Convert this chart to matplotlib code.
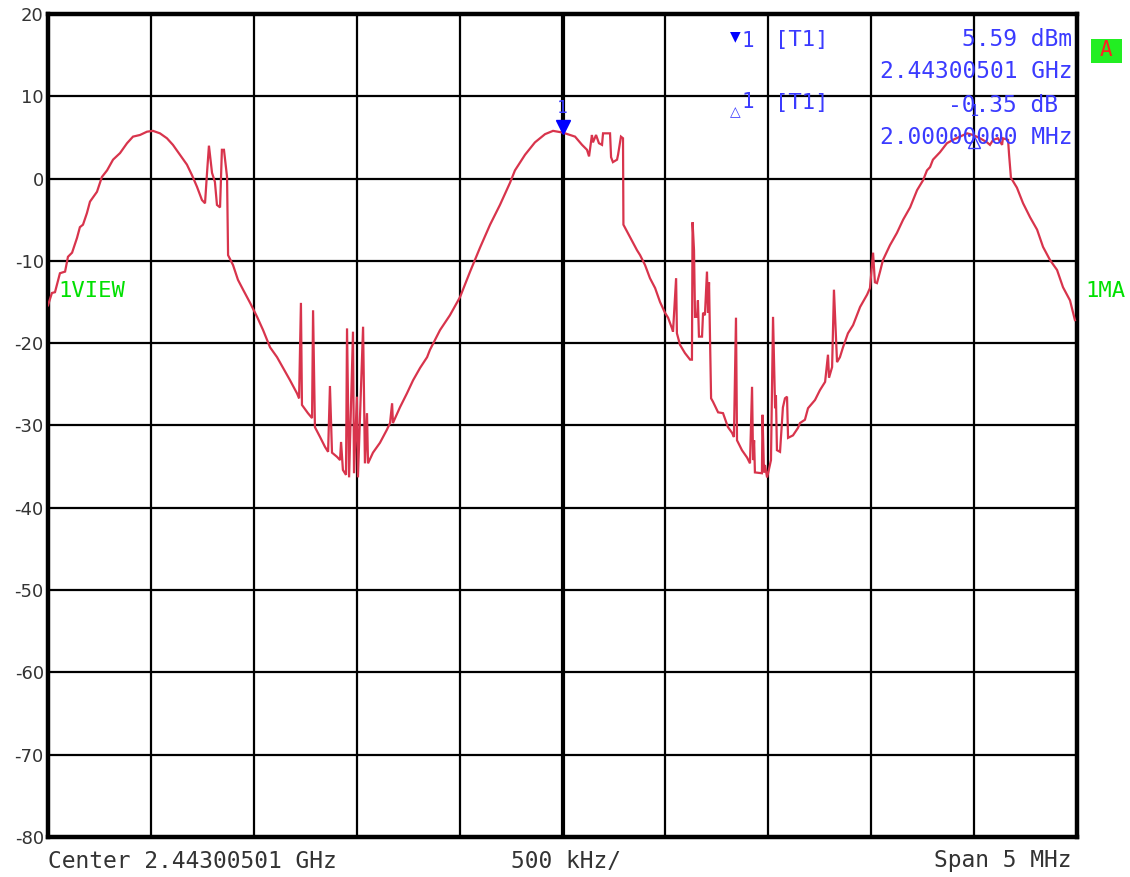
import matplotlib
matplotlib.use("Agg")
import matplotlib.pyplot as plt
from matplotlib.patches import Rectangle

# ---------------- data ----------------
center_label = "Center 2.44300501 GHz"
rbw_label = "500 kHz/"
span_label = "Span 5 MHz"
y_ticks = [20, 10, 0, -10, -20, -30, -40, -50, -60, -70, -80]

# frequency offset from center (MHz) and level (dBm)
freq_mhz = [
    -2.500, -2.481, -2.466, -2.442, -2.417, -2.403, -2.383, -2.359, -2.345, -2.330,
    -2.311, -2.296, -2.262, -2.238, -2.213, -2.184, -2.150, -2.116, -2.087, -2.053,
    -2.019, -1.990, -1.956, -1.922, -1.893, -1.859, -1.825, -1.800, -1.776, -1.752,
    -1.737, -1.727, -1.718, -1.703, -1.689, -1.679, -1.664, -1.655, -1.645, -1.630,
    -1.625, -1.601, -1.577, -1.552, -1.518,
    -1.484, -1.455, -1.421, -1.387, -1.358, -1.324, -1.290, -1.280, -1.271, -1.266,
    -1.237, -1.217, -1.212, -1.203, -1.178, -1.154, -1.139, -1.130, -1.120, -1.096,
    -1.081, -1.076, -1.067, -1.052, -1.047, -1.037, -1.018, -1.013, -0.999, -0.994,
    -0.969, -0.960, -0.950, -0.945, -0.921, -0.887, -0.853, -0.838, -0.828, -0.824,
    -0.790, -0.756, -0.726, -0.692, -0.658, -0.644,
    -0.595, -0.547, -0.498, -0.449, -0.401, -0.352, -0.304, -0.255, -0.231, -0.182,
    -0.134, -0.085, -0.046, 0.000,
    0.036, 0.061, 0.095, 0.119, 0.129, 0.143, 0.148, 0.163, 0.177, 0.192,
    0.197, 0.231, 0.236, 0.245, 0.265, 0.270, 0.284, 0.294, 0.296, 0.328,
    0.362, 0.377, 0.401, 0.425, 0.450, 0.474, 0.498, 0.513, 0.532, 0.537,
    0.552, 0.556, 0.571, 0.595, 0.620, 0.629, 0.632, 0.639, 0.644, 0.654,
    0.658, 0.663, 0.678, 0.683, 0.692, 0.702, 0.707, 0.712, 0.722, 0.731,
    0.756, 0.780, 0.804, 0.824, 0.833, 0.843, 0.848, 0.872, 0.897, 0.911,
    0.921, 0.926, 0.931, 0.935, 0.969, 0.972, 0.979, 0.984, 0.994, 0.999,
    1.013, 1.023, 1.033, 1.037, 1.042, 1.057, 1.071, 1.081, 1.091, 1.096,
    1.120, 1.144, 1.154, 1.178, 1.193, 1.227, 1.251, 1.276, 1.290, 1.295,
    1.310, 1.319, 1.334, 1.348, 1.363, 1.387, 1.412, 1.446, 1.480, 1.494,
    1.509, 1.518, 1.528, 1.543, 1.557, 1.591, 1.625, 1.655, 1.689, 1.723,
    1.752, 1.771, 1.786, 1.800, 1.834, 1.868, 1.897, 1.931, 1.966, 1.995,
    2.029, 2.063, 2.077, 2.092, 2.116, 2.136, 2.140, 2.165, 2.170, 2.179,
    2.208, 2.238, 2.272, 2.306, 2.335, 2.369, 2.403, 2.432, 2.466, 2.490,
]
level_dbm = [
    -15.4, -13.9, -13.8, -11.5, -11.3, -9.5, -9.0, -7.2, -5.9, -5.6,
    -4.2, -2.8, -1.6, 0.2, 1.0, 2.3, 3.1, 4.3, 5.1, 5.3,
    5.7, 5.8, 5.5, 4.9, 4.1, 2.9, 1.7, 0.4, -1.0, -2.6,
    -3.0, 0.8, 4.0, 0.7, -0.4, -3.2, -3.5, 3.5, 3.5, 0.2,
    -9.3, -10.5, -12.3, -13.5, -15.1,
    -16.8, -18.4, -20.5, -21.7, -23.0, -24.5, -26.1, -26.7, -15.1, -27.5,
    -28.5, -29.1, -16.0, -30.2, -31.4, -32.6, -33.2, -25.2, -33.3, -33.8,
    -34.2, -32.0, -35.4, -36.0, -18.2, -36.3, -18.6, -35.8, -26.5, -36.3,
    -18.0, -34.6, -28.5, -34.6, -33.3, -32.1, -30.5, -29.7, -27.3, -29.7,
    -27.8, -26.1, -24.5, -23.0, -21.7, -20.8,
    -18.4, -16.6, -14.4, -11.3, -8.4, -5.6, -3.2, -0.5, 1.0, 2.9,
    4.4, 5.4, 5.8, 5.6,
    5.3, 5.1, 4.1, 3.5, 2.7, 5.3, 4.4, 5.3, 4.3, 4.1,
    5.5, 5.5, 2.6, 2.0, 2.3, 2.9, 5.1, 4.9, -5.6, -7.1,
    -8.7, -9.3, -10.5, -12.1, -13.3, -15.0, -16.3, -16.9, -18.2, -18.6,
    -12.1, -18.8, -20.2, -21.2, -22.0, -22.0, -5.3, -8.7, -16.8, -16.8,
    -14.8, -19.2, -19.2, -16.3, -16.6, -11.3, -16.3, -12.6, -26.7, -27.1,
    -28.4, -28.5, -30.2, -30.9, -31.4, -16.9, -31.8, -33.0, -33.9, -34.6,
    -25.3, -34.2, -31.8, -35.7, -35.8, -28.7, -35.7, -34.8, -36.3, -35.8,
    -34.2, -16.8, -27.9, -26.3, -33.0, -33.2, -27.8, -26.7, -26.5, -31.5,
    -31.2, -30.3, -29.7, -29.3, -27.9, -26.9, -25.7, -24.7, -21.4, -24.2,
    -22.9, -13.5, -22.3, -21.7, -20.5, -18.8, -17.8, -15.6, -14.1, -13.3,
    -9.0, -12.6, -12.7, -11.3, -9.9, -8.1, -6.6, -5.0, -3.5, -1.4,
    -0.2, 1.0, 1.4, 2.3, 3.2, 4.3, 4.7, 5.1, 5.5, 5.3,
    4.9, 4.4, 4.1, 4.7, 4.9, 4.1, 4.9, 4.7, 2.9, 0.1,
    -1.1, -3.0, -4.7, -6.2, -8.3, -9.9, -11.1, -13.2, -14.8, -17.2,
]

marker1_freq = 0.0
marker1_level = 5.59
delta_freq = 2.0
delta_level = 5.59 - 0.35

marker_lines = [
    ("5.59 dBm", 40),
    ("2.44300501 GHz", 72),
    ("-0.35 dB", 105),
    ("2.00000000 MHz", 137),
]

# ---------------- styling ----------------
W, H = 1130, 877
TRACE = "#d8344c"
BLUE = "#3b3bff"
GREEN = "#00e000"
GRAY = "#333333"
MONO = "DejaVu Sans Mono"


def fx(x):
    return x / W


def fy(y):
    return 1 - y / H


fig = plt.figure(figsize=(W / 100, H / 100), dpi=100)
fig.patch.set_facecolor("white")
ax = fig.add_axes([fx(48), 1 - 837 / H, 1029 / W, 823 / H])
ax.set_xlim(-2.5, 2.5)
ax.set_ylim(-80, 20)

# grid
for i in range(1, 10):
    xv = -2.5 + 0.5 * i
    ax.axvline(xv, color="black", lw=3.0 if i == 5 else 1.6, zorder=1)
for yv in y_ticks[1:-1]:
    ax.axhline(yv, color="black", lw=1.6, zorder=1)

for sp in ax.spines.values():
    sp.set_linewidth(3.2)
    sp.set_color("black")

ax.set_xticks([])
ax.set_yticks(y_ticks)
ax.set_yticklabels([str(v) for v in y_ticks])
ax.tick_params(axis="y", length=0, pad=3, labelsize=13, labelcolor=GRAY)

# trace
ax.plot(freq_mhz, level_dbm, color=TRACE, lw=1.6, zorder=3, solid_joinstyle="miter")

# marker 1
ax.plot([marker1_freq], [marker1_level], marker="v", color="#0000ff", markersize=10,
        linestyle="none", zorder=6,
        transform=ax.transData + matplotlib.transforms.ScaledTranslation(0, 6 / 100, fig.dpi_scale_trans))
ax.annotate("1", xy=(marker1_freq, marker1_level), xytext=(0, 18), textcoords="offset points",
            ha="center", va="center", color=BLUE, fontsize=13, family=MONO, zorder=6)

# delta marker
ax.plot([delta_freq], [delta_level], marker="^", markerfacecolor="none", markeredgecolor=BLUE,
        markersize=9, linestyle="none", zorder=6,
        transform=ax.transData + matplotlib.transforms.ScaledTranslation(0, -7 / 100, fig.dpi_scale_trans))
ax.annotate("1", xy=(delta_freq, delta_level), xytext=(0, 17), textcoords="offset points",
            ha="center", va="center", color=BLUE, fontsize=11, family=MONO, zorder=6)

# marker info text
fig.text(fx(735), fy(36), "\u25BC", color="#0000ff", fontsize=10, ha="center", va="center")
fig.text(fx(741), fy(41), "1", color=BLUE, fontsize=15, family=MONO, ha="left", va="center")
fig.text(fx(775), fy(40), "[T1]", color=BLUE, fontsize=16, family=MONO, ha="left", va="center")
fig.text(fx(735), fy(112), "\u25B3", color=BLUE, fontsize=10, ha="center", va="center")
fig.text(fx(741), fy(102), "1", color=BLUE, fontsize=15, family=MONO, ha="left", va="center")
fig.text(fx(775), fy(103), "[T1]", color=BLUE, fontsize=16, family=MONO, ha="left", va="center")
for txt, yy in marker_lines:
    xr = 1072 if not txt.endswith("dB") else 1058
    fig.text(fx(xr), fy(yy), txt, color=BLUE, fontsize=16.5, family=MONO, ha="right", va="center")

# side labels
fig.text(fx(58), fy(291), "1VIEW", color=GREEN, fontsize=16, family=MONO, ha="left", va="center")
fig.text(fx(1085), fy(291), "1MA", color=GREEN, fontsize=16, family=MONO, ha="left", va="center")
fig.patches.append(Rectangle((fx(1091), fy(63)), 31 / W, 24 / H, transform=fig.transFigure,
                             facecolor="#22ee22", edgecolor="none"))
fig.text(fx(1106), fy(50), "A", color="#ff2020", fontsize=15, family=MONO, ha="center", va="center")

# bottom labels
fig.text(fx(48), fy(861), center_label, color=GRAY, fontsize=16.5, family=MONO, ha="left", va="center")
fig.text(fx(566), fy(861), rbw_label, color=GRAY, fontsize=16.5, family=MONO, ha="center", va="center")
fig.text(fx(1072), fy(861), span_label, color=GRAY, fontsize=16.5, family=MONO, ha="right", va="center")

fig.savefig("out.png", dpi=100, facecolor="white")
